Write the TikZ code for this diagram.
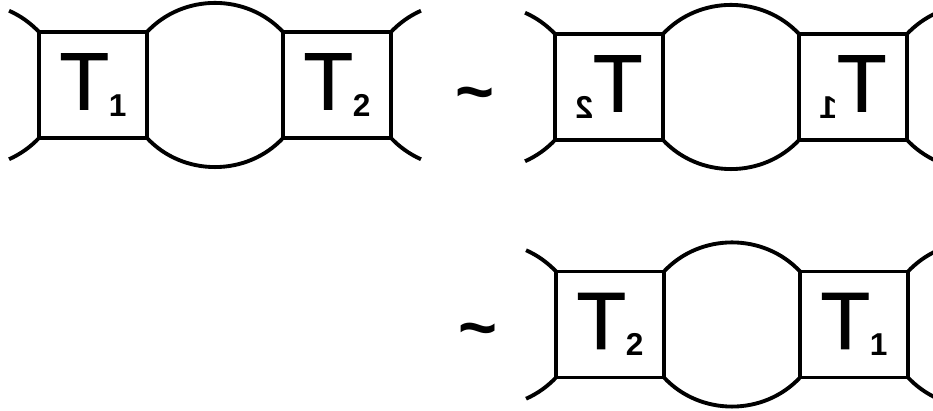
\documentclass[tikz,border=0pt]{standalone}
\usepackage{fontspec}
\usepackage{graphicx}
\setmainfont{Liberation Sans}
\newfontfamily\tfont[FakeBold=1.2]{Liberation Sans}
\newcommand\Tlab[1]{{\tfont\fontsize{46}{46}\selectfont T}\raisebox{-0.14cm}{\fontsize{18}{18}\selectfont\bfseries #1}}
\begin{document}
\begin{tikzpicture}[x=0.02cm,y=0.02cm,
  every path/.style={line width=2.2pt},
  tbox/.style={draw, rectangle, minimum width=2.16cm, minimum height=2.12cm,
    inner sep=0pt, outer sep=0pt},
  tilde/.style={font=\bfseries\fontsize{38}{38}\selectfont, inner sep=0pt, anchor=base}]
\useasboundingbox (0,0) rectangle (933,411);
% diagram A (top left)
\node[tbox] (a1) at (93,326) {\Tlab{1}};
\node[tbox] (a2) at (337,326) {\Tlab{2}};
% diagram B (top right, mirrored)
\node[tbox] (b1) at (609,324) {\reflectbox{\Tlab{2}}};
\node[tbox] (b2) at (853,324) {\reflectbox{\Tlab{1}}};
% diagram C (bottom)
\node[tbox] (c1) at (610,86.5) {\Tlab{2}};
\node[tbox] (c2) at (854,86.5) {\Tlab{1}};
% tildes
\node[tilde] (s1) at (475,296) {\textasciitilde};
\node[tilde] (s2) at (478,60) {\textasciitilde};
% bubbles and legs
\foreach \l/\r in {a1/a2, b1/b2, c1/c2}{
  \draw (\l.north east) to[bend left=47] (\r.north west);
  \draw (\l.south east) to[bend right=47] (\r.south west);
  \draw (\l.north west) arc[start angle=43.3, end angle=66, radius=1.868cm];
  \draw (\l.south west) arc[start angle=-43.3, end angle=-66, radius=1.868cm];
  \draw (\r.north east) arc[start angle=136.7, end angle=114, radius=1.868cm];
  \draw (\r.south east) arc[start angle=-136.7, end angle=-114, radius=1.868cm];
}
\end{tikzpicture}
\end{document}
